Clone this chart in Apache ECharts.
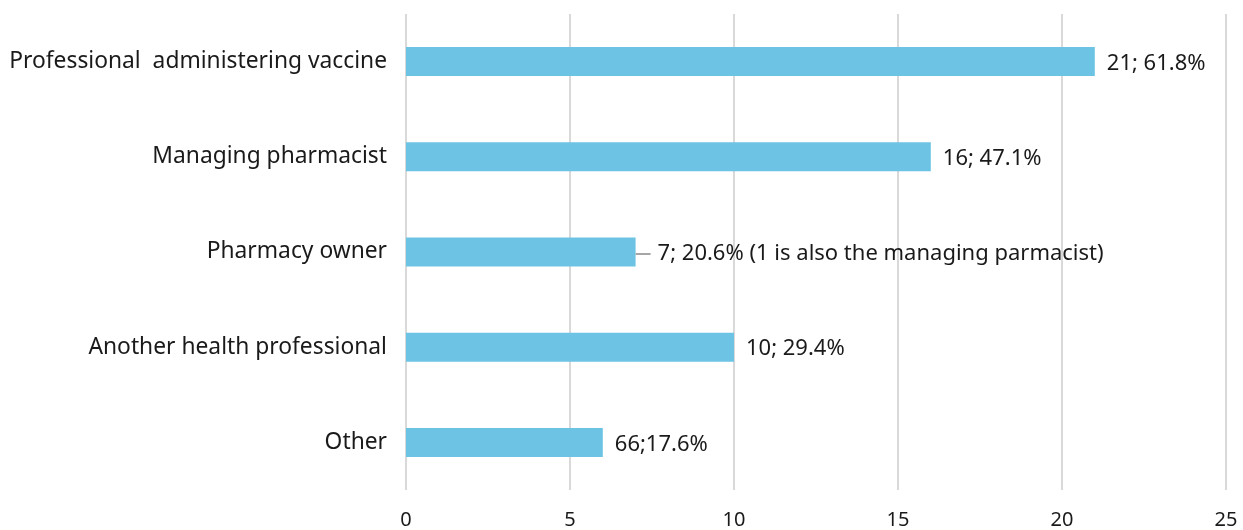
<!DOCTYPE html>
<html>
<head>
<meta charset="utf-8">
<script src="https://cdn.jsdelivr.net/npm/echarts@6/dist/echarts.min.js"></script>
<style>
  html, body { margin: 0; padding: 0; background: #fff; }
  #chart { width: 1243px; height: 530px; }
</style>
</head>
<body>
<div id="chart"></div>
<script>
// Roles of the respondents (top to bottom)
const categories = [
  'Professional  administering vaccine',
  'Managing pharmacist',
  'Pharmacy owner',
  'Another health professional',
  'Other'
];
const counts = [21, 16, 7, 10, 6];
const valueLabels = [
  '21; 61.8%',
  '16; 47.1%',
  '7; 20.6% (1 is also the managing parmacist)',
  '10; 29.4%',
  '66;17.6%'
];
const xTicks = [0, 5, 10, 15, 20, 25];

const FONT = '"Noto Sans", sans-serif';
const chart = echarts.init(document.getElementById('chart'));

// The owner row carries a short grey leader before its note
const leaderRow = 2;

chart.setOption({
  animation: false,
  grid: { left: 406, right: 17, top: 14, bottom: 40, containLabel: false },
  xAxis: {
    type: 'value',
    min: xTicks[0],
    max: xTicks[xTicks.length - 1],
    interval: 5,
    axisLine: { show: false },
    axisTick: { show: false },
    splitLine: { show: true, lineStyle: { color: '#d9d9d9', width: 2 } },
    axisLabel: {
      margin: 20,
      fontFamily: FONT,
      fontSize: 20,
      color: '#1a1a1a',
      formatter: v => String(v)
    }
  },
  yAxis: {
    type: 'category',
    inverse: true,
    data: categories,
    axisLine: { show: false },
    axisTick: { show: false },
    axisLabel: {
      margin: 19,
      fontFamily: FONT,
      fontSize: 22.8,
      color: '#1a1a1a',
      padding: [4, 0, 0, 0]
    }
  },
  series: [{
    type: 'bar',
    data: counts,
    barWidth: 29,
    itemStyle: { color: '#6cc3e4' },
    label: {
      show: true,
      position: 'right',
      distance: 0,
      offset: [0, 2],
      fontFamily: FONT,
      fontSize: 22,
      color: '#1a1a1a',
      formatter: p => p.dataIndex === leaderRow
        ? '{ln|}{gap|}' + valueLabels[p.dataIndex]
        : '{pad|}' + valueLabels[p.dataIndex],
      rich: {
        pad: { width: 12 },
        ln: { width: 15, height: 2, backgroundColor: '#a6a6a6' },
        gap: { width: 7 }
      }
    }
  }]
});
</script>
</body>
</html>
